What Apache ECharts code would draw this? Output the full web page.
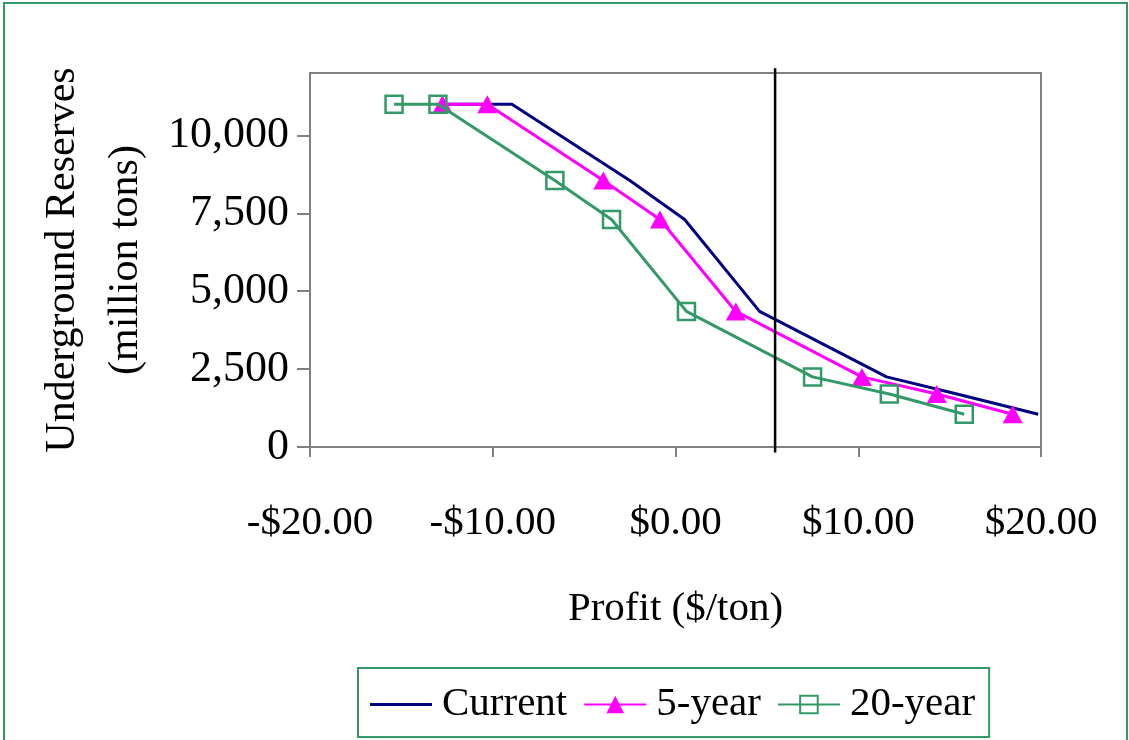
<!DOCTYPE html>
<html>
<head>
<meta charset="utf-8">
<title>Underground Reserves vs Profit</title>
<script src="https://cdn.jsdelivr.net/npm/echarts@6/dist/echarts.min.js"></script>
<style>
  html, body { margin: 0; padding: 0; background: #ffffff; }
  #chart { width: 1129px; height: 740px; }
</style>
</head>
<body>
<div id="chart"></div>
<script>
// Profit ($/ton) at each reserve level, per scenario
const currentProfit = [-12.8, -8.95, -2.5, 0.5, 4.6, 11.55, 15.4, 19.85];
const fiveYearProfit = [-12.75, -10.3, -3.95, -0.85, 3.3, 10.2, 14.3, 18.45];
const twentyYearProfit = [-15.4, -13.0, -6.6, -3.5, 0.6, 7.5, 11.7, 15.8];

// Underground reserves (million tons) shared by the three curves
const reserves = [11000, 11000, 8550, 7300, 4350, 2250, 1700, 1050];

// Reference profit level marked by the vertical rule
const referenceProfit = 5.45;

const yTicks = [0, 2500, 5000, 7500, 10000];

const pair = (xs, ys) => xs.map((x, i) => [x, ys[i]]);

const FONT = '"Liberation Serif", "Times New Roman", serif';
const GRAY = '#808080';
const GREEN = '#339966';
const NAVY = '#000080';
const MAGENTA = '#ff00ff';

const chart = echarts.init(document.getElementById('chart'), null, { renderer: 'canvas' });

chart.setOption({
  backgroundColor: '#ffffff',
  animation: false,
  graphic: [{
    type: 'rect',
    shape: { x: 4, y: 3, width: 1123, height: 745 },
    style: { fill: 'none', stroke: GREEN, lineWidth: 2 },
    silent: true,
    z: -10
  }],
  grid: {
    left: 310, right: 88, top: 73, bottom: 293,
    show: true, borderColor: GRAY, borderWidth: 2, backgroundColor: 'transparent'
  },
  xAxis: {
    type: 'value',
    min: -20, max: 20, interval: 10,
    name: 'Profit ($/ton)',
    nameLocation: 'middle',
    nameGap: 139,
    nameTextStyle: { fontFamily: FONT, fontSize: 41, color: '#000', lineHeight: 47 },
    axisLine: { show: true, onZero: false, lineStyle: { color: GRAY, width: 2 } },
    axisTick: { show: true, inside: false, length: 10, lineStyle: { color: GRAY, width: 2 } },
    splitLine: { show: false },
    axisLabel: {
      margin: 53,
      fontFamily: FONT, fontSize: 41, color: '#000', lineHeight: 47,
      formatter: v => (v < 0 ? '-$' : '$') + Math.abs(v).toFixed(2)
    }
  },
  yAxis: {
    type: 'value',
    min: 0, max: 12000, interval: 2500,
    name: 'Underground Reserves\n(million tons)',
    nameLocation: 'middle',
    nameRotate: 90,
    nameGap: 148,
    nameTextStyle: { fontFamily: FONT, fontSize: 42, color: '#000', lineHeight: 63 },
    axisLine: { show: true, onZero: false, lineStyle: { color: GRAY, width: 2 } },
    axisTick: { show: true, inside: false, length: 13, customValues: yTicks, lineStyle: { color: GRAY, width: 2 } },
    splitLine: { show: false },
    axisLabel: {
      margin: 21,
      customValues: yTicks,
      fontFamily: FONT, fontSize: 44, color: '#000',
      formatter: v => v.toLocaleString('en-US')
    }
  },
  legend: {
    data: [
      { name: 'Current', icon: 'path://M0,0H62V3H0Z' },
      { name: '5-year' },
      { name: '20-year' }
    ],
    left: 358, top: 668,
    orient: 'horizontal',
    padding: [13, 14, 9, 12],
    itemGap: 16,
    itemWidth: 62,
    itemHeight: 22,
    borderColor: GREEN,
    borderWidth: 2,
    backgroundColor: '#ffffff',
    textStyle: { fontFamily: FONT, fontSize: 41, color: '#000', lineHeight: 47, padding: [0, 0, 0, 5] }
  },
  series: [
    {
      name: 'Current',
      type: 'line',
      data: pair(currentProfit, reserves),
      symbol: 'none',
      itemStyle: { color: NAVY },
      lineStyle: { color: NAVY, width: 3 },
      z: 3
    },
    {
      name: '5-year',
      type: 'line',
      data: pair(fiveYearProfit, reserves),
      symbol: 'triangle',
      symbolSize: [20, 18],
      itemStyle: { color: MAGENTA },
      lineStyle: { color: MAGENTA, width: 3 },
      z: 4
    },
    {
      name: '20-year',
      type: 'line',
      data: pair(twentyYearProfit, reserves),
      symbol: 'rect',
      symbolSize: 17,
      itemStyle: { color: 'rgba(0,0,0,0)', borderColor: GREEN, borderWidth: 2.5 },
      lineStyle: { color: GREEN, width: 3 },
      z: 5
    },
    {
      name: 'Reference profit',
      type: 'line',
      data: [[referenceProfit, -180], [referenceProfit, 12150]],
      symbol: 'none',
      clip: false,
      silent: true,
      lineStyle: { color: '#000000', width: 2.5 },
      z: 6
    }
  ]
});
</script>
</body>
</html>
